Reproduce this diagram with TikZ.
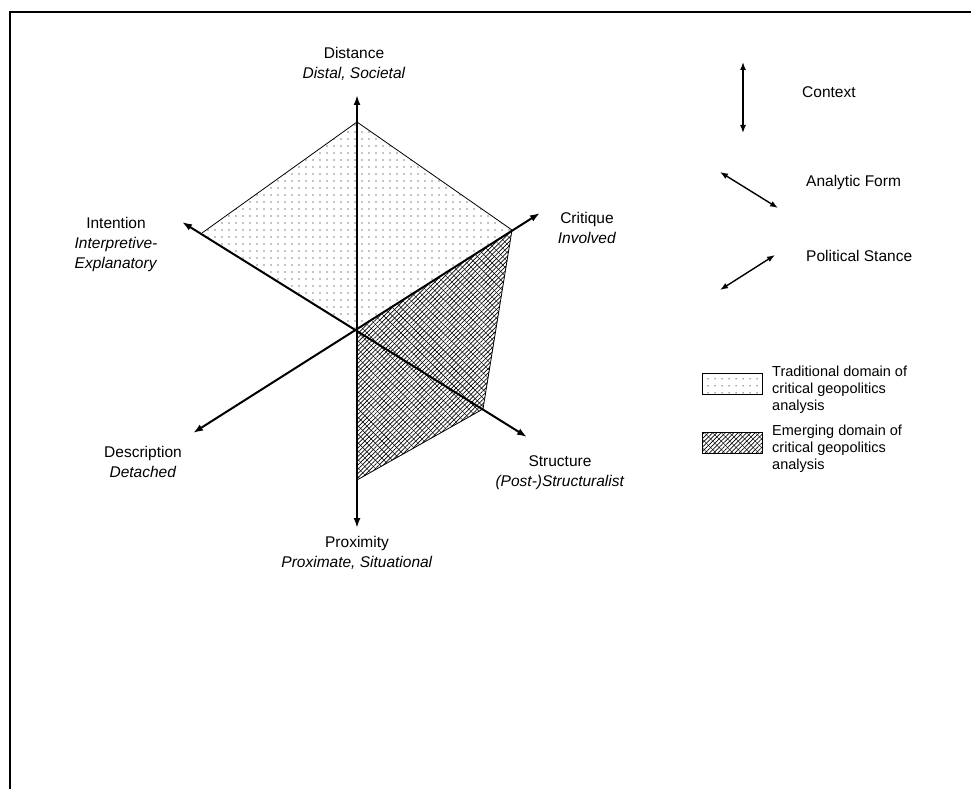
\documentclass[tikz,border=0pt]{standalone}
\usepackage{fontspec}
\setmainfont{Liberation Sans}
\usetikzlibrary{arrows.meta,patterns.meta}
\tikzset{
  axis/.style={line width=2pt,{Latex[length=10pt,width=7pt]}-{Latex[length=10pt,width=7pt]}},
  vaxis/.style={line width=2.6pt,{Latex[length=10pt,width=7pt]}-{Latex[length=10pt,width=7pt]}},
  keyarrow/.style={line width=1.4pt,{Latex[length=8pt,width=6pt]}-{Latex[length=8pt,width=6pt]}},
  lab/.style={align=center,font=\fontsize{15.5}{20}\selectfont,inner sep=0pt},
  keytext/.style={align=left,font=\fontsize{14.5}{17}\selectfont,inner sep=0pt,anchor=north west},
  dotfill/.style={pattern={Dots[radius=0.6pt,distance=6.5pt]}},
  hatchfill/.style={pattern={Lines[angle=45,distance=3pt,line width=0.7pt]}},
  hatchfill2/.style={pattern={Lines[angle=-45,distance=6pt,line width=0.4pt]}},
  edge/.style={line width=0.8pt}
}
\begin{document}
\begin{tikzpicture}[x=1pt,y=-1pt]
\useasboundingbox (0,0) rectangle (971,789);
% frame
\draw[line width=2pt] (10,789) -- (10,12) -- (971,12);
% coordinates
\coordinate (O) at (358,330);
\coordinate (distTip) at (357,95);
\coordinate (proxTip) at (357,528);
\coordinate (intTip) at (182,222);
\coordinate (strTip) at (527,437);
\coordinate (criTip) at (540,213);
\coordinate (desTip) at (193,433);
\coordinate (pTop) at (357,122);
\coordinate (pLeft) at (202,233);
\coordinate (pRight) at (512,230);
\coordinate (pStr) at (483,409);
\coordinate (pBot) at (357,480);
% traditional domain
\fill[dotfill] (pTop) -- (pLeft) -- (O) -- (pRight) -- cycle;
\draw[edge] (pLeft) -- (pTop) -- (pRight);
% emerging domain
\fill[hatchfill] (O) -- (pRight) -- (pStr) -- (pBot) -- cycle;
\fill[hatchfill2] (O) -- (pRight) -- (pStr) -- (pBot) -- cycle;
\draw[edge] (pRight) -- (pStr) -- (pBot);
% axes
\draw[vaxis] (proxTip) -- (distTip);
\draw[axis] (intTip) -- (strTip);
\draw[axis] (desTip) -- (criTip);
% labels
\node[lab] (dist) at (354,64) {Distance\\\textit{Distal, Societal}};
\node[lab] (int) at (116,244) {Intention\\\textit{Interpretive-}\\\textit{Explanatory}};
\node[lab] (cri) at (587,228) {Critique\\\textit{Involved}};
\node[lab] (des) at (143,462) {Description\\\textit{Detached}};
\node[lab] (str) at (560,473) {Structure\\\textit{(Post-)Structuralist}};
\node[lab] (prox) at (357,553) {Proximity\\\textit{Proximate, Situational}};
% legend
\coordinate (c1) at (743,62); \coordinate (c2) at (743,133);
\draw[keyarrow] (c1) -- (c2);
\node[lab,anchor=west] (ctx) at (802,92) {Context};
\coordinate (a1) at (720,172); \coordinate (a2) at (778,208);
\draw[keyarrow] (a1) -- (a2);
\node[lab,anchor=west] (af) at (806,182) {Analytic Form};
\coordinate (s1) at (775,255); \coordinate (s2) at (720,290);
\draw[keyarrow] (s1) -- (s2);
\node[lab,anchor=west] (ps) at (806,256) {Political Stance};
\node[draw,line width=0.8pt,dotfill,minimum width=60pt,minimum height=21pt,inner sep=0pt,anchor=north west] (box1) at (702,373) {};
\node[keytext] (t1) at (772,366) {Traditional domain of\\critical geopolitics\\analysis};
\node[draw,line width=0.8pt,hatchfill,minimum width=60pt,minimum height=21pt,inner sep=0pt,anchor=north west] (box2) at (702,432) {};
\fill[hatchfill2] (box2.south west) rectangle (box2.north east);
\node[keytext] (t2) at (772,425) {Emerging domain of\\critical geopolitics\\analysis};
\end{tikzpicture}
\end{document}
